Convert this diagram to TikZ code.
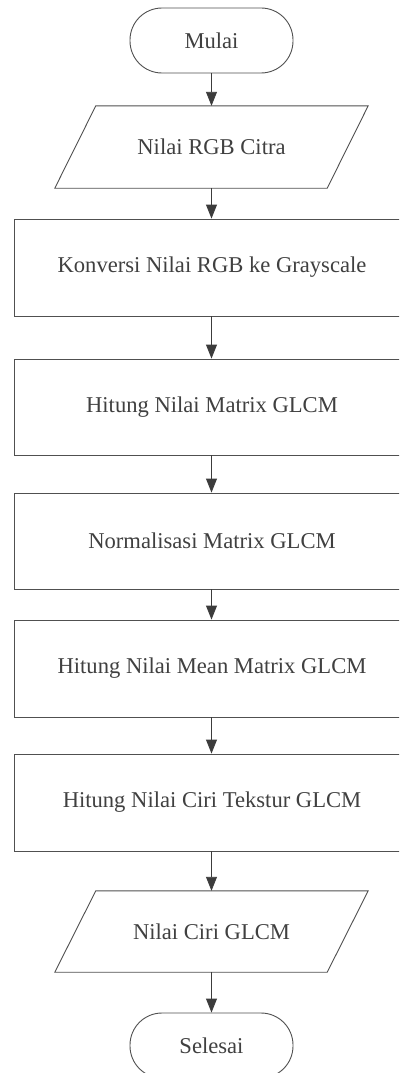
\documentclass[tikz,border=0pt]{standalone}
\usepackage{fontspec}
\setmainfont{Liberation Serif}
\usetikzlibrary{arrows.meta}
\definecolor{linec}{HTML}{505050}
\definecolor{textc}{HTML}{404040}
\definecolor{arrc}{HTML}{3C3C3C}
\tikzset{
  base/.style={font=\fontsize{22.6}{26}\selectfont, text=textc, inner sep=0pt},
  term/.style={base, draw=linec, line width=0.9pt, rounded corners=32pt, minimum width=163pt, minimum height=65pt},
  procbox/.style={base, draw=linec, line width=0.9pt, minimum width=396pt},
  iobox/.style={base, minimum width=313pt},
  iodraw/.style={draw=linec, line width=0.9pt, line join=miter},
  arr/.style={draw=arrc, line width=0.9pt, -{Triangle[width=11pt,length=14pt]}}
}
\begin{document}
\begin{tikzpicture}[x=1pt,y=-1pt]
\useasboundingbox (0,0) rectangle (399,1073);
\clip (0,0) rectangle (399,1073);
\fill[white] (0,0) rectangle (399,1073);

\node[term] (m) at (211.5,40.5) {Mulai};
\node[iobox, minimum height=82pt] (p1) at (211.5,147) {Nilai RGB Citra};
\draw[iodraw] ([xshift=41pt]p1.north west) -- (p1.north east) -- ([xshift=-41pt]p1.south east) -- (p1.south west) -- cycle;
\node[procbox, minimum height=97pt] (b1) at (212,267.5) {Konversi Nilai RGB ke Grayscale};
\node[procbox, minimum height=96pt] (b2) at (212,407) {Hitung Nilai Matrix GLCM};
\node[procbox, minimum height=96pt] (b3) at (212,541) {Normalisasi Matrix GLCM};
\node[procbox, minimum height=97pt] (b4) at (212,668.5) {Hitung Nilai Mean Matrix GLCM};
\node[procbox, minimum height=97pt] (b5) at (212,802.5) {Hitung Nilai Ciri Tekstur GLCM};
\node[iobox, minimum height=81pt] (p2) at (211.5,931.5) {Nilai Ciri GLCM};
\draw[iodraw] ([xshift=41pt]p2.north west) -- (p2.north east) -- ([xshift=-41pt]p2.south east) -- (p2.south west) -- cycle;
\node[term] (s) at (211.5,1045.5) {Selesai};

\draw[arr] (m.south) -- (p1.north);
\draw[arr] (p1.south) -- (p1.south |- b1.north);
\draw[arr] (p1.south |- b1.south) -- (p1.south |- b2.north);
\draw[arr] (p1.south |- b2.south) -- (p1.south |- b3.north);
\draw[arr] (p1.south |- b3.south) -- (p1.south |- b4.north);
\draw[arr] (p1.south |- b4.south) -- (p1.south |- b5.north);
\draw[arr] (p1.south |- b5.south) -- (p2.north);
\draw[arr] (p2.south) -- (s.north);
\end{tikzpicture}
\end{document}
